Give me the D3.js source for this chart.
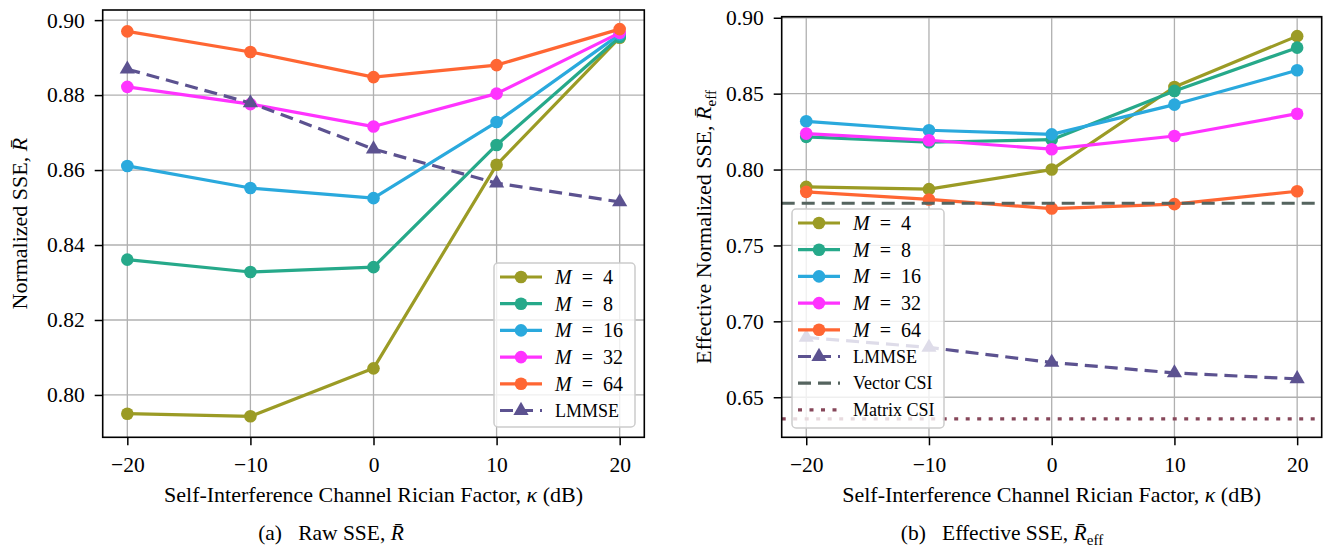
<!DOCTYPE html>
<html>
<head>
<meta charset="utf-8">
<script src="https://cdn.jsdelivr.net/npm/d3@7"></script>
<style>
  body { margin: 0; background: #fff; }
  svg { display: block; }
  text { font-family: "Liberation Serif", "DejaVu Serif", serif; fill: #000; }
</style>
</head>
<body>
<svg id="chart" width="1327" height="547"></svg>
<script>
// x values (kappa, dB)
const kappa = [-20, -10, 0, 10, 20];
const xTicks = [-20, -10, 0, 10, 20];

// (a) raw SSE
const rawM4 = [0.7950, 0.7943, 0.8071, 0.8614, 0.8953];
const rawM8 = [0.8361, 0.8328, 0.8341, 0.8667, 0.8955];
const rawM16 = [0.8611, 0.8552, 0.8525, 0.8728, 0.8962];
const rawM32 = [0.8822, 0.8776, 0.8716, 0.8804, 0.8966];
const rawM64 = [0.8970, 0.8915, 0.8848, 0.8880, 0.8976];
const rawLmmse = [0.8869, 0.8779, 0.8656, 0.8565, 0.8515];
const rawYTicks = [0.80, 0.82, 0.84, 0.86, 0.88, 0.90];

// (b) effective SSE
const effM4 = [0.7886, 0.7871, 0.8000, 0.8544, 0.8879];
const effM8 = [0.8215, 0.8180, 0.8197, 0.8518, 0.8803];
const effM16 = [0.8318, 0.8259, 0.8232, 0.8428, 0.8654];
const effM32 = [0.8237, 0.8193, 0.8134, 0.8221, 0.8368];
const effM64 = [0.7853, 0.7803, 0.7743, 0.7772, 0.7857];
const effLmmse = [0.6894, 0.6828, 0.6729, 0.6660, 0.6621];
const vectorCsi = 0.7778;
const matrixCsi = 0.6357;
const effYTicks = [0.65, 0.70, 0.75, 0.80, 0.85, 0.90];

const mValues = ['4', '8', '16', '32', '64'];
const colors = ['#9b9b25', '#26a98a', '#2aa9dd', '#ff33ff', '#ff6633'];
const lmmseColor = '#5c5290';
const vectorColor = '#55645f';
const matrixColor = '#86475a';

const svg = d3.select('#chart');
svg.append('rect').attr('width', 1327).attr('height', 547).attr('fill', '#fff');

const bottom = 437.3;
const lw = 3.2;
const labelSize = 22;
const dash = '13,7';

function drawPanel(p) {
  const x = d3.scaleLinear().domain([-22, 22]).range(p.xRange);
  const y = d3.scaleLinear().domain(p.yDomain).range([bottom, p.top]);
  const g = svg.append('g');

  // grid
  g.selectAll('.vg').data(xTicks).join('line')
    .attr('x1', d => x(d)).attr('x2', d => x(d))
    .attr('y1', bottom).attr('y2', p.top)
    .attr('stroke', '#b0b0b0').attr('stroke-width', 1.3);
  g.selectAll('.hg').data(p.yTicks).join('line')
    .attr('x1', p.xRange[0]).attr('x2', p.xRange[1])
    .attr('y1', d => y(d)).attr('y2', d => y(d))
    .attr('stroke', '#b0b0b0').attr('stroke-width', 1.3);

  const line = d3.line().x((d, i) => x(kappa[i])).y(d => y(d));

  // M series
  p.series.forEach((vals, i) => {
    const s = g.append('g');
    s.append('path').datum(vals)
      .attr('d', line).attr('fill', 'none')
      .attr('stroke', colors[i]).attr('stroke-width', lw)
      .attr('stroke-linejoin', 'round');
    s.selectAll('circle').data(vals).join('circle')
      .attr('cx', (d, j) => x(kappa[j])).attr('cy', d => y(d))
      .attr('r', 6.3).attr('fill', colors[i]);
  });

  // LMMSE
  const lm = g.append('g');
  lm.append('path').datum(p.lmmse)
    .attr('d', line).attr('fill', 'none')
    .attr('stroke', lmmseColor).attr('stroke-width', lw)
    .attr('stroke-dasharray', dash);
  lm.selectAll('path.tri').data(p.lmmse).join('path')
    .attr('class', 'tri')
    .attr('d', d3.symbol(d3.symbolTriangle, 100))
    .attr('transform', (d, j) => `translate(${x(kappa[j])},${y(d)})`)
    .attr('fill', lmmseColor);

  // horizontal references
  if (p.vector !== undefined) {
    g.append('line')
      .attr('x1', p.xRange[0]).attr('x2', p.xRange[1])
      .attr('y1', y(p.vector)).attr('y2', y(p.vector))
      .attr('stroke', vectorColor).attr('stroke-width', lw)
      .attr('stroke-dasharray', dash);
    g.append('line')
      .attr('x1', p.xRange[0]).attr('x2', p.xRange[1])
      .attr('y1', y(p.matrix)).attr('y2', y(p.matrix))
      .attr('stroke', matrixColor).attr('stroke-width', lw)
      .attr('stroke-dasharray', '4,7.5');
  }

  // axes
  const xAxis = g.append('g').attr('transform', `translate(0,${bottom})`)
    .call(d3.axisBottom(x).tickValues(xTicks).tickSize(8).tickPadding(11).tickFormat(d3.format('d')));
  const yAxis = g.append('g').attr('transform', `translate(${p.xRange[0]},0)`)
    .call(d3.axisLeft(y).tickValues(p.yTicks).tickSize(8).tickPadding(10).tickFormat(d3.format('.2f')));
  [xAxis, yAxis].forEach(a => {
    a.select('.domain').remove();
    a.selectAll('line').attr('stroke', '#000').attr('stroke-width', 1.5);
    a.selectAll('text').attr('font-size', 21.5)
      .attr('font-family', '"Liberation Serif", serif').attr('fill', '#000');
  });

  g.append('rect')
    .attr('x', p.xRange[0]).attr('y', p.top)
    .attr('width', p.xRange[1] - p.xRange[0]).attr('height', bottom - p.top)
    .attr('fill', 'none').attr('stroke', '#000').attr('stroke-width', 1.6);

  // x label
  const cx = (p.xRange[0] + p.xRange[1]) / 2;
  const xl = g.append('text').attr('x', cx).attr('y', 502)
    .attr('text-anchor', 'middle').attr('font-size', labelSize);
  xl.append('tspan').text('Self-Interference Channel Rician Factor, ');
  xl.append('tspan').attr('font-style', 'italic').text('κ');
  xl.append('tspan').text(' (dB)');

  // y label
  const cy = (bottom + p.top) / 2;
  const yl = g.append('text')
    .attr('transform', `translate(${p.yLabelX},${cy}) rotate(-90)`)
    .attr('text-anchor', 'middle').attr('font-size', labelSize);
  yl.append('tspan').text(p.yLabel);
  yl.append('tspan').attr('font-style', 'italic').text('R\u0304');
  if (p.eff) {
    yl.append('tspan').attr('font-size', 15).attr('dy', 5).text('eff');
  }

  // caption
  const cap = g.append('text').attr('x', p.capX).attr('y', 540)
    .attr('text-anchor', 'middle').attr('font-size', 21.5);
  cap.append('tspan').text(p.capLabel + '\u2002 ' + p.capText);
  cap.append('tspan').attr('font-style', 'italic').text('R\u0304');
  if (p.eff) {
    cap.append('tspan').attr('font-size', 15).attr('dy', 5).text('eff');
  }

  // legend
  const L = p.legend;
  const lg = g.append('g');
  lg.append('rect')
    .attr('x', L.x).attr('y', L.y).attr('width', L.w).attr('height', L.h)
    .attr('rx', 4).attr('fill', '#fff').attr('fill-opacity', 0.8)
    .attr('stroke', '#cccccc').attr('stroke-width', 1.5);
  const entries = mValues.map((m, i) => ({ type: 'm', m, color: colors[i] }))
    .concat([{ type: 'lmmse' }]);
  if (p.vector !== undefined) {
    entries.push({ type: 'vector' }, { type: 'matrix' });
  }
  entries.forEach((e, i) => {
    const ry = L.y + 14 + i * 26.7;
    const hx0 = L.x + 6, hx1 = L.x + 48, hm = (hx0 + hx1) / 2;
    const row = lg.append('g');
    if (e.type === 'm') {
      row.append('line').attr('x1', hx0).attr('x2', hx1).attr('y1', ry).attr('y2', ry)
        .attr('stroke', e.color).attr('stroke-width', lw);
      row.append('circle').attr('cx', hm).attr('cy', ry).attr('r', 6.3).attr('fill', e.color);
      const t = row.append('text').attr('x', L.x + 61).attr('y', ry + 7).attr('font-size', 20);
      t.append('tspan').attr('font-style', 'italic').text('M');
      t.append('tspan').text('\u2002=\u2002' + e.m);
    } else if (e.type === 'lmmse') {
      row.append('line').attr('x1', hx0).attr('x2', hx1).attr('y1', ry).attr('y2', ry)
        .attr('stroke', lmmseColor).attr('stroke-width', lw).attr('stroke-dasharray', dash);
      row.append('path').attr('d', d3.symbol(d3.symbolTriangle, 100))
        .attr('transform', `translate(${hm},${ry})`).attr('fill', lmmseColor);
      row.append('text').attr('x', L.x + 61).attr('y', ry + 6).attr('font-size', 18).text('LMMSE');
    } else if (e.type === 'vector') {
      row.append('line').attr('x1', hx0).attr('x2', hx1).attr('y1', ry).attr('y2', ry)
        .attr('stroke', vectorColor).attr('stroke-width', lw).attr('stroke-dasharray', dash);
      row.append('text').attr('x', L.x + 61).attr('y', ry + 6).attr('font-size', 18).text('Vector CSI');
    } else {
      row.append('line').attr('x1', hx0).attr('x2', hx1).attr('y1', ry).attr('y2', ry)
        .attr('stroke', matrixColor).attr('stroke-width', lw).attr('stroke-dasharray', '4,7.5');
      row.append('text').attr('x', L.x + 61).attr('y', ry + 6).attr('font-size', 18).text('Matrix CSI');
    }
  });
}

drawPanel({
  xRange: [102.7, 644.3], top: 10, yDomain: [0.7887, 0.9027], yTicks: rawYTicks,
  series: [rawM4, rawM8, rawM16, rawM32, rawM64], lmmse: rawLmmse,
  yLabel: 'Normalized SSE, ', yLabelX: 27, eff: false,
  capX: 331, capLabel: '(a)', capText: 'Raw SSE, ',
  legend: { x: 494, y: 263, w: 141, h: 164 }
});

drawPanel({
  xRange: [781.7, 1321.7], top: 16.7, yDomain: [0.6236, 0.9007], yTicks: effYTicks,
  series: [effM4, effM8, effM16, effM32, effM64], lmmse: effLmmse,
  vector: vectorCsi, matrix: matrixCsi,
  yLabel: 'Effective Normalized SSE, ', yLabelX: 711, eff: true,
  capX: 1002, capLabel: '(b)', capText: 'Effective SSE, ',
  legend: { x: 792, y: 209, w: 152, h: 219 }
});
</script>
</body>
</html>
